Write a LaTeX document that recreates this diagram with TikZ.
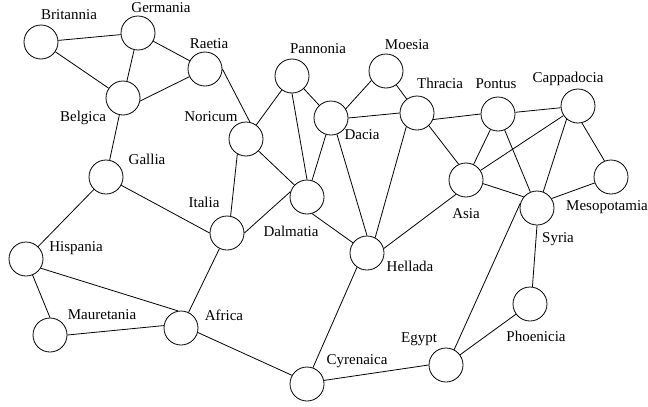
\documentclass[tikz,border=0pt]{standalone}
\usepackage{fontspec}
\setmainfont{Liberation Serif}
\begin{document}
\begin{tikzpicture}[x=1pt,y=-1pt,
  region/.style={circle,draw,line width=0.8pt,minimum size=34pt,inner sep=0pt},
  rlabel/.style={anchor=base,inner sep=0pt,font=\fontsize{15}{18}\selectfont},
  link/.style={line width=0.8pt}]
\useasboundingbox (0,0) rectangle (648,407);
% regions
\node[region] (britannia) at (41,42) {};
\node[region] (germania) at (138,33) {};
\node[region] (raetia) at (205,69) {};
\node[region] (belgica) at (123,98) {};
\node[region] (gallia) at (106,177) {};
\node[region] (noricum) at (246,139) {};
\node[region] (pannonia) at (292,76) {};
\node[region] (moesia) at (386,71) {};
\node[region] (dacia) at (331,118) {};
\node[region] (thracia) at (417,113) {};
\node[region] (dalmatia) at (307,197) {};
\node[region] (italia) at (227,233) {};
\node[region] (hellada) at (367,253) {};
\node[region] (pontus) at (498,114) {};
\node[region] (cappadocia) at (578,106) {};
\node[region] (asia) at (466,180) {};
\node[region] (mesopotamia) at (611,177) {};
\node[region] (syria) at (537,208) {};
\node[region] (hispania) at (26,259) {};
\node[region] (mauretania) at (50,335) {};
\node[region] (africa) at (181,328) {};
\node[region] (cyrenaica) at (307,384) {};
\node[region] (egypt) at (446,365) {};
\node[region] (phoenicia) at (530,304) {};
% labels
\node[rlabel] (l-britannia) at (69,19) {Britannia};
\node[rlabel] (l-germania) at (161,12) {Germania};
\node[rlabel] (l-raetia) at (209,48) {Raetia};
\node[rlabel] (l-belgica) at (83,121) {Belgica};
\node[rlabel] (l-noricum) at (211,121) {Noricum};
\node[rlabel] (l-gallia) at (147,164) {Gallia};
\node[rlabel] (l-italia) at (204,207) {Italia};
\node[rlabel] (l-pannonia) at (318,53) {Pannonia};
\node[rlabel] (l-moesia) at (407,49) {Moesia};
\node[rlabel] (l-thracia) at (440,88) {Thracia};
\node[rlabel] (l-pontus) at (496,88) {Pontus};
\node[rlabel] (l-cappadocia) at (568,82) {Cappadocia};
\node[rlabel] (l-dacia) at (362,139) {Dacia};
\node[rlabel] (l-dalmatia) at (291,236) {Dalmatia};
\node[rlabel] (l-hellada) at (410,271) {Hellada};
\node[rlabel] (l-asia) at (466,218) {Asia};
\node[rlabel] (l-mesopotamia) at (607,210) {Mesopotamia};
\node[rlabel] (l-syria) at (558,242) {Syria};
\node[rlabel] (l-hispania) at (76,251) {Hispania};
\node[rlabel] (l-mauretania) at (102,319) {Mauretania};
\node[rlabel] (l-africa) at (224,320) {Africa};
\node[rlabel] (l-cyrenaica) at (357,364) {Cyrenaica};
\node[rlabel] (l-egypt) at (419,342) {Egypt};
\node[rlabel] (l-phoenicia) at (536,341) {Phoenicia};
% links
\draw[link] (britannia) -- (germania);
\draw[link] (britannia) -- (belgica);
\draw[link] (germania) -- (belgica);
\draw[link] (germania) -- (raetia);
\draw[link] (raetia) -- (belgica.-10);
\draw[link] (belgica) -- (gallia);
\draw[link] (raetia.east) -- (noricum.77);
\draw[link] (gallia) -- (hispania);
\draw[link] (gallia) -- (italia.west);
\draw[link] (noricum.240) -- (italia.78);
\draw[link] (noricum) -- (pannonia);
\draw[link] (noricum) -- (dalmatia);
\draw[link] (pannonia.south) -- (dalmatia.north);
\draw[link] (pannonia) -- (dacia);
\draw[link] (dacia.32) -- (moesia.213);
\draw[link] (dacia.east) -- (thracia.west);
\draw[link] (dacia) -- (dalmatia);
\draw[link] (dacia.-70) -- (hellada.north);
\draw[link] (moesia) -- (thracia);
\draw[link] (thracia.232) -- (hellada.62);
\draw[link] (thracia.-22) -- (pontus.west);
\draw[link] (thracia.-47) -- (asia.115);
\draw[link] (dalmatia.162) -- (italia.east);
\draw[link] (dalmatia.-73) -- (hellada.144);
\draw[link] (hellada.15) -- (asia.235);
\draw[link] (hellada.235) -- (cyrenaica.70);
\draw[link] (italia) -- (africa);
\draw[link] (hispania.-32) -- (africa.100);
\draw[link] (hispania) -- (mauretania.north);
\draw[link] (mauretania.east) -- (africa.172);
\draw[link] (africa.-15) -- (cyrenaica.150);
\draw[link] (cyrenaica.12) -- (egypt.west);
\draw[link] (egypt.62) -- (syria.164);
\draw[link] (egypt) -- (phoenicia);
\draw[link] (phoenicia.82) -- (syria.south);
\draw[link] (pontus) -- (cappadocia);
\draw[link] (pontus) -- (asia);
\draw[link] (pontus) -- (syria);
\draw[link] (cappadocia) -- (asia);
\draw[link] (cappadocia.229) -- (syria.69);
\draw[link] (cappadocia.-77) -- (mesopotamia.112);
\draw[link] (asia.-12) -- (syria.140);
\draw[link] (syria.33) -- (mesopotamia.200);
\end{tikzpicture}
\end{document}
